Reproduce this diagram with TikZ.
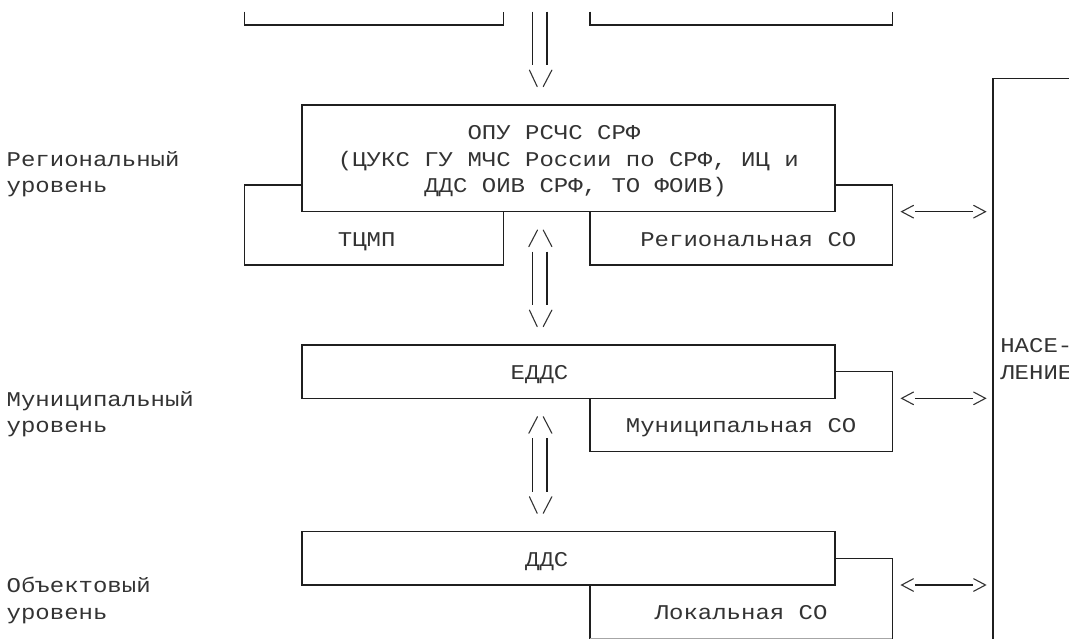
\documentclass[tikz,border=0pt]{standalone}
\usepackage{fontspec}
\newfontfamily\ascfont[FakeStretch=1.142857]{Liberation Mono}
\newcommand\ascsel{\ascfont\fontsize{21pt}{21pt}\selectfont\fontdimen2\font=14.4pt\fontdimen3\font=0pt\fontdimen4\font=0pt\frenchspacing}
\tikzset{
  ln/.style={line width=1.6pt, draw=black!88},
  glyph/.style={line width=1.1pt, draw=black!80, line cap=round, line join=miter},
  boxnode/.style={draw=black!88, line width=1.6pt, inner sep=0pt, outer sep=0pt, anchor=north west, minimum width=37*14.4pt},
  tx/.style={anchor=base west, inner sep=0pt, outer sep=0pt, font=\ascsel, text=black!80},
}
% place text: name, column, row, text
\newcommand\putline[4]{\node[tx] (#1) at ({#2-0.5},{#3+0.295}) {#4};}
% arrow heads: name prefix, row
\newcommand\downhead[2]{%
  \coordinate (#1l) at (35.80,{#2-0.31}); \coordinate (#1m) at (36.34,{#2+0.31});
  \coordinate (#1r) at (37.36,{#2-0.31}); \coordinate (#1n) at (36.76,{#2+0.31});
  \draw[glyph] (#1l) -- (#1m); \draw[glyph] (#1r) -- (#1n);}
\newcommand\uphead[2]{%
  \coordinate (#1l) at (35.76,{#2+0.31}); \coordinate (#1m) at (36.36,{#2-0.31});
  \coordinate (#1r) at (37.36,{#2+0.31}); \coordinate (#1n) at (36.76,{#2-0.31});
  \draw[glyph] (#1l) -- (#1m); \draw[glyph] (#1r) -- (#1n);}
\newcommand\twin[3]{%
  \coordinate (#1a) at (36,#2); \coordinate (#1b) at (36,#3);
  \coordinate (#1c) at (37,#2); \coordinate (#1d) at (37,#3);
  \draw[ln] (#1a) -- (#1b); \draw[ln] (#1c) -- (#1d);}
\newcommand\biarrow[2]{%
  \coordinate (#1L) at (61.65,#2); \coordinate (#1R) at (67.47,#2);
  \draw[glyph] (62.47,{#2-0.235}) -- (#1L) -- (62.47,{#2+0.235});
  \draw[ln] (62.57,#2) -- (66.63,#2);
  \draw[glyph] (66.65,{#2-0.235}) -- (#1R) -- (66.65,{#2+0.235});}

\begin{document}
\begin{tikzpicture}[x=14.4pt,y=-26.6667pt]
\useasboundingbox (-0.96528,-0.9375) rectangle (73.27083,23.025);
\clip (-0.96528,-0.9375) rectangle (73.27083,23.025);

% fragments of the boxes above
\coordinate (tl1) at (16,-0.5); \coordinate (tl2) at (34,0); \coordinate (tl3) at (34,-0.5);
\draw[ln] (tl1) |- (tl2) -- (tl3);
\coordinate (tr1) at (40,-0.5); \coordinate (tr2) at (61,0); \coordinate (tr3) at (61,-0.5);
\draw[ln] (tr1) |- (tr2) -- (tr3);
\twin{t0}{-0.5}{1.5}
\downhead{h0}{2}

% population box
\coordinate (pop1) at (74,2); \coordinate (pop2) at (68,2); \coordinate (pop3) at (68,23.6);
\draw[ln] (pop1) -- (pop2) -- (pop3);
\putline{pop-a}{69}{12}{НАСЕ-}
\putline{pop-b}{69}{13}{ЛЕНИЕ}

% regional level
\node[boxnode, minimum height=4*26.6667pt] (opu) at (20,3) {};
\draw[ln] (20,6) -| (16,9) -| (34,7);
\draw[ln] (57,6) -| (61,9) -| (40,7);
\putline{opu-a}{32}{4}{ОПУ РСЧС СРФ}
\putline{opu-b}{23}{5}{(ЦУКС ГУ МЧС России по СРФ, ИЦ и}
\putline{opu-c}{29}{6}{ДДС ОИВ СРФ, ТО ФОИВ)}
\putline{tcmp}{23}{8}{ТЦМП}
\putline{regso}{44}{8}{Региональная СО}
\putline{lab-r1}{0}{5}{Региональный}
\putline{lab-r2}{0}{6}{уровень}
\biarrow{a1}{7}
\uphead{h1}{8}
\twin{t1}{8.5}{10.5}
\downhead{h2}{11}

% municipal level
\node[boxnode, minimum height=2*26.6667pt] (edds) at (20,12) {};
\draw[ln] (57,13) -| (61,16) -| (40,14);
\putline{edds-t}{35}{13}{ЕДДС}
\putline{munso}{43}{15}{Муниципальная СО}
\putline{lab-m1}{0}{14}{Муниципальный}
\putline{lab-m2}{0}{15}{уровень}
\biarrow{a2}{14}
\uphead{h3}{15}
\twin{t2}{15.5}{17.5}
\downhead{h4}{18}

% object level
\node[boxnode, minimum height=2*26.6667pt] (dds) at (20,19) {};
\draw[ln] (57,20) -- (61,20) -- (61,23.5);
\draw[ln] (40,21) -- (40,23.5);
\draw[line width=1.2pt, draw=black!35] (40,23) -- (61,23);
\putline{dds-t}{36}{20}{ДДС}
\putline{lokso}{45}{22}{Локальная СО}
\putline{lab-o1}{0}{21}{Объектовый}
\putline{lab-o2}{0}{22}{уровень}
\biarrow{a3}{21}
\end{tikzpicture}
\end{document}
